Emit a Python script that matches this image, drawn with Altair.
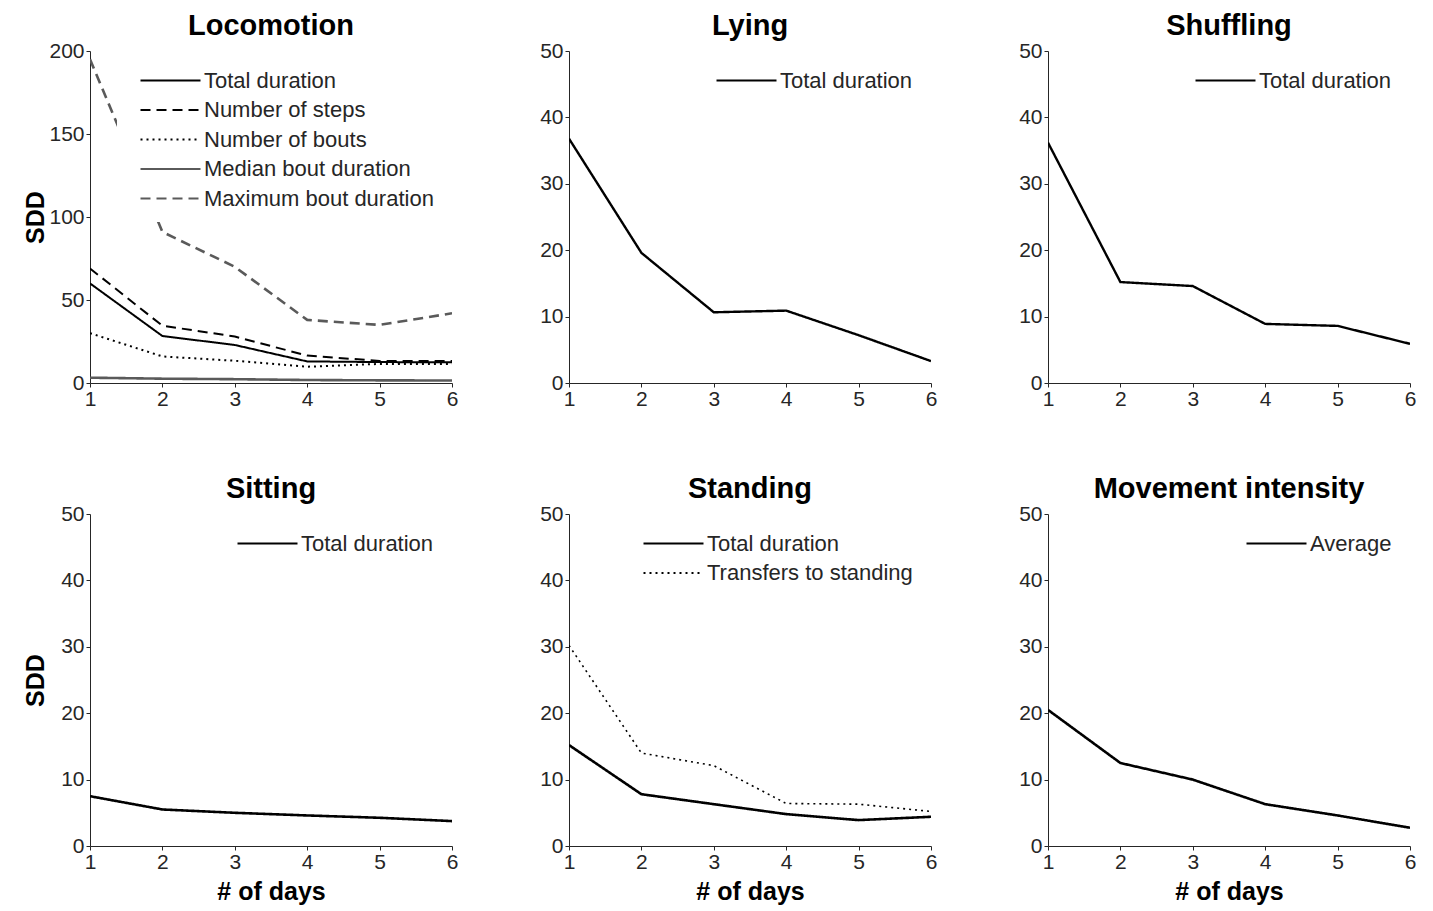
import altair as alt
import pandas as pd

days = [1, 2, 3, 4, 5, 6]

# Locomotion
loco_names = ["Total duration", "Number of steps", "Number of bouts",
              "Median bout duration", "Maximum bout duration"]
loco_total = [60.0, 28.3, 22.9, 13.0, 12.6, 12.5]
loco_steps = [69.0, 34.5, 28.0, 16.5, 13.3, 13.3]
loco_bouts = [30.0, 16.0, 13.4, 9.8, 11.5, 11.5]
loco_median = [3.2, 2.6, 2.3, 1.8, 1.6, 1.5]
loco_max = [195.0, 91.0, 70.0, 38.0, 35.0, 42.0]

# Lying / Shuffling / Sitting
lying_total = [36.8, 19.6, 10.65, 10.9, 7.2, 3.3]
shuffling_total = [36.2, 15.2, 14.6, 8.9, 8.6, 5.9]
sitting_total = [7.5, 5.5, 5.0, 4.6, 4.25, 3.75]

# Standing
standing_names = ["Total duration", "Transfers to standing"]
standing_total = [15.2, 7.8, 6.3, 4.8, 3.9, 4.4]
standing_transfers = [30.2, 14.0, 12.1, 6.4, 6.3, 5.2]

# Movement intensity
intensity_names = ["Average"]
intensity_avg = [20.5, 12.5, 10.0, 6.3, 4.6, 2.75]

FONT = "Liberation Sans"
BLACK = "#000000"
GRAY = "#5a5a5a"
SOLID = [1, 0]
DASH = [10, 6]
DOT = [2, 4]


def panel(title, names, series, colors, dashes, widths, ymax, ystep, ytitle, xtitle):
    rows = []
    for n, vals, w in zip(names, series, widths):
        for d, v in zip(days, vals):
            rows.append({"day": d, "value": v, "series": n, "w": w})
    df = pd.DataFrame(rows)

    legend = alt.Legend(
        title=None, orient="top-right", offset=6, padding=12, fillColor="white",
        symbolType="M-3,0H3", symbolSize=400, symbolStrokeWidth=2.2,
        symbolOffset=30,
        labelFont=FONT, labelFontSize=22, labelColor="#262626",
        labelOffset=22, rowPadding=6.5, labelLimit=400,
    )

    xaxis_kw = dict(values=days, format="d", labelFlush=False, labelPadding=1,
                    grid=False, tickSize=4)
    if xtitle:
        xaxis_kw.update(title="# of days", titleY=53, titleBaseline="alphabetic")
    else:
        xaxis_kw.update(title=None)

    yaxis_kw = dict(values=list(range(0, ymax + 1, ystep)), labelPadding=2,
                    grid=False, tickSize=4)
    if ytitle:
        yaxis_kw.update(title="SDD", titleX=-47, titleY=166, titleAngle=-90,
                        titleBaseline="alphabetic", titleAlign="center")
    else:
        yaxis_kw.update(title=None)

    ch = alt.Chart(df).mark_line(clip=True).encode(
        x=alt.X("day:Q", scale=alt.Scale(domain=[1, 6], nice=False, zero=False),
                axis=alt.Axis(**xaxis_kw)),
        y=alt.Y("value:Q", scale=alt.Scale(domain=[0, ymax], nice=False),
                axis=alt.Axis(**yaxis_kw)),
        color=alt.Color("series:N", scale=alt.Scale(domain=names, range=colors),
                        legend=legend),
        strokeDash=alt.StrokeDash("series:N", scale=alt.Scale(domain=names, range=dashes),
                                  legend=legend),
        strokeWidth=alt.StrokeWidth("w:Q", scale=None, legend=None),
    ).properties(
        width=362, height=332,
        title=alt.TitleParams(title, font=FONT, fontSize=29, fontWeight="bold",
                              color="#000000", offset=7, dy=31, baseline="alphabetic"),
    )
    return ch


p1 = panel("Locomotion", loco_names,
           [loco_total, loco_steps, loco_bouts, loco_median, loco_max],
           [BLACK, BLACK, BLACK, GRAY, GRAY], [SOLID, DASH, DOT, SOLID, DASH],
           [2, 2, 2, 2.6, 2.6], 200, 50, True, False)
p2 = panel("Lying", ["Total duration"], [lying_total], [BLACK], [SOLID], [2.4],
           50, 10, False, False)
p3 = panel("Shuffling", ["Total duration"], [shuffling_total], [BLACK], [SOLID], [2.4],
           50, 10, False, False)
p4 = panel("Sitting", ["Total duration"], [sitting_total], [BLACK], [SOLID], [2.6],
           50, 10, True, True)
p5 = panel("Standing", standing_names, [standing_total, standing_transfers],
           [BLACK, BLACK], [SOLID, DOT], [2.6, 1.6], 50, 10, False, True)
p6 = panel("Movement intensity", intensity_names, [intensity_avg], [BLACK], [SOLID], [2.6],
           50, 10, False, True)

chart = alt.concat(
    p1, p2, p3, p4, p5, p6, columns=3,
    spacing={"row": 131, "column": 117}, bounds="flush",
).resolve_scale(
    color="independent", strokeDash="independent"
).properties(
    padding={"left": 15, "top": 4, "right": 5, "bottom": 5},
    background="white",
).configure_view(
    stroke=None
).configure_axis(
    domainColor="#262626", tickColor="#262626", domainWidth=1,
    labelFont=FONT, labelFontSize=21, labelColor="#262626",
    titleFont=FONT, titleFontSize=25, titleFontWeight="bold", titleColor="#000000",
)

chart.save("out.html", embed_options={"renderer": "svg", "actions": False})
